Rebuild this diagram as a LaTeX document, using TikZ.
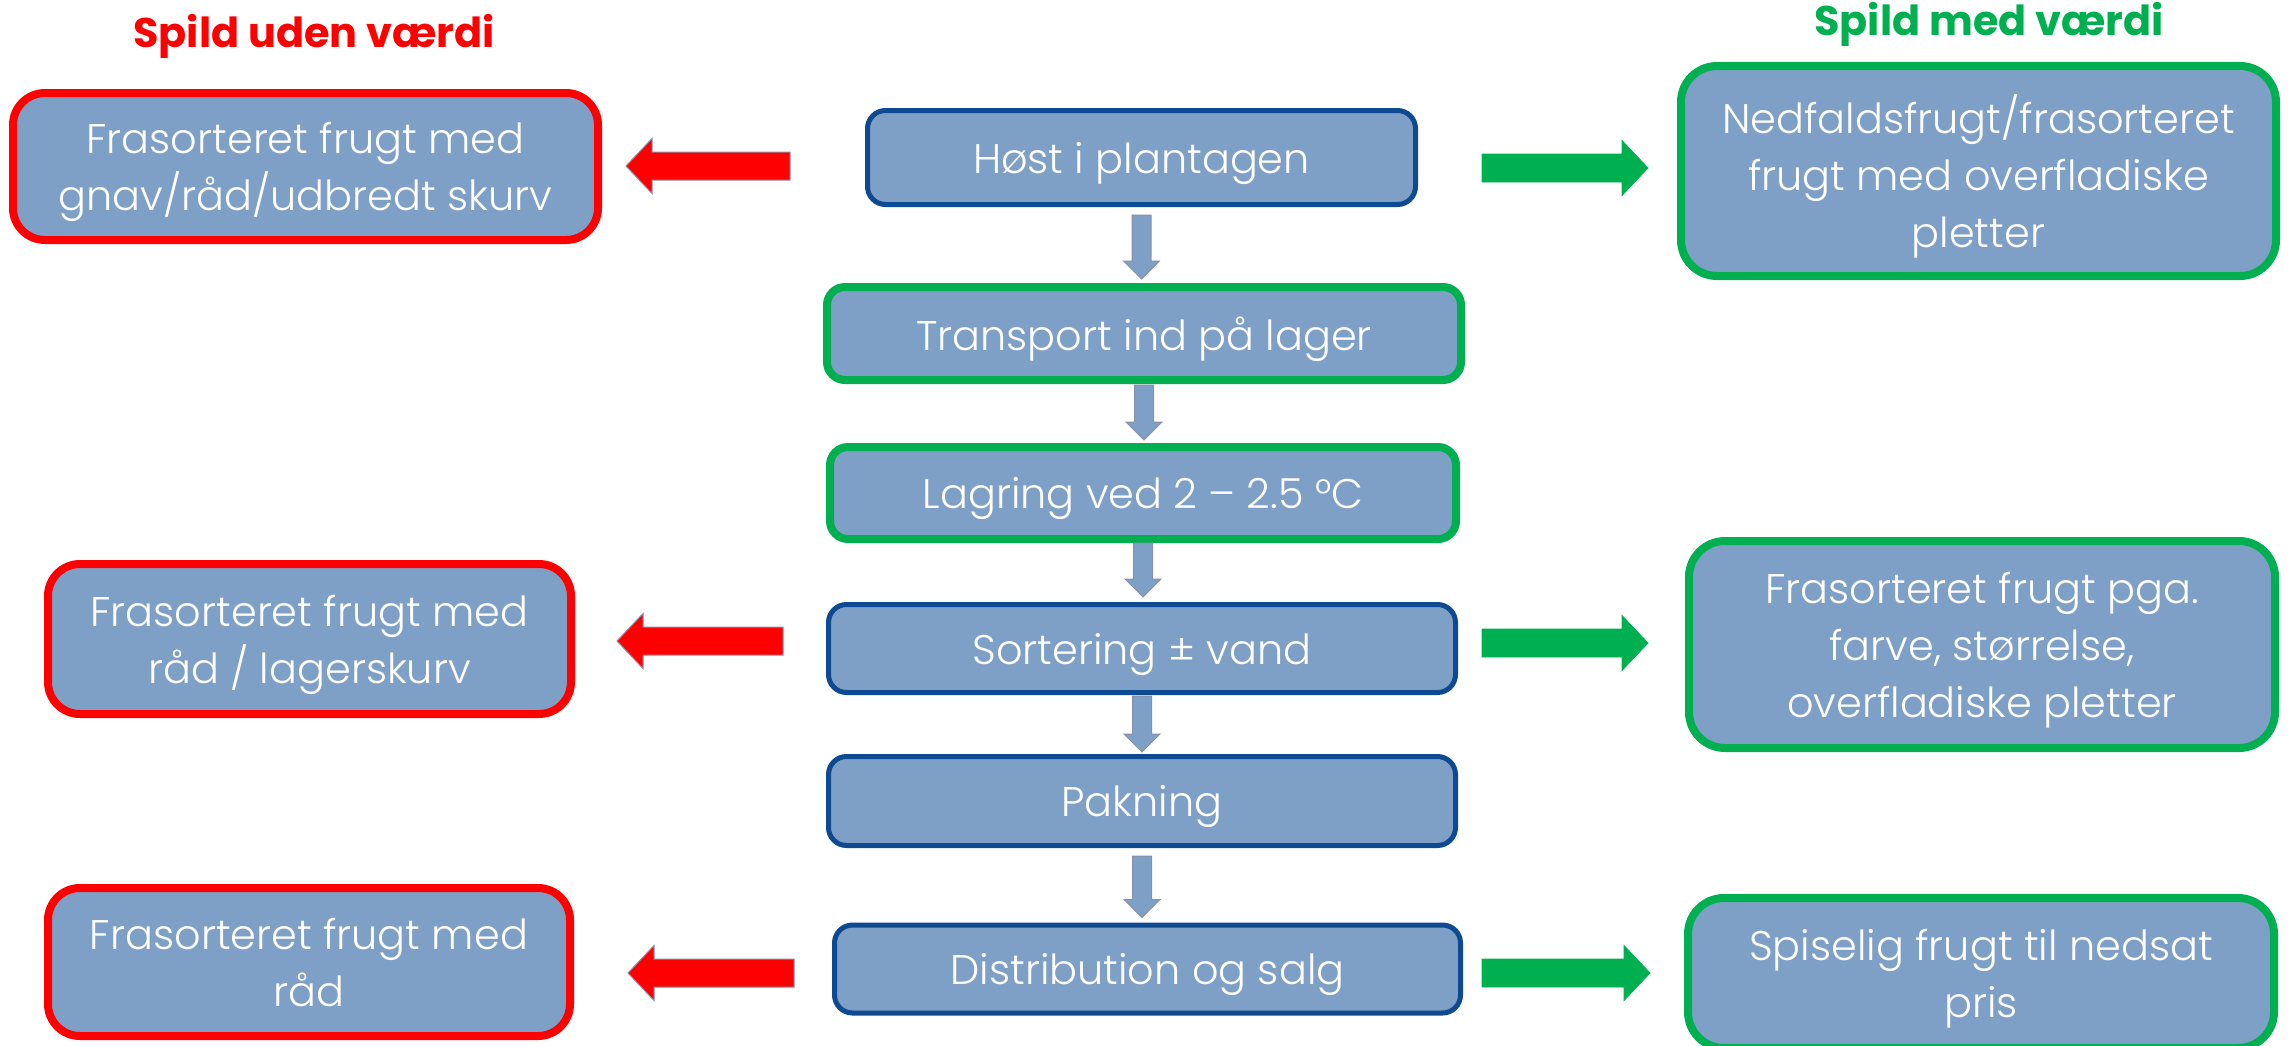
\documentclass[tikz,border=0pt]{standalone}
\usepackage{fontspec}
\setmainfont{Poppins}
\newfontfamily\lightfont{Poppins Light}
\usetikzlibrary{calc}
\definecolor{boxfill}{HTML}{7FA0C6}
\definecolor{darkblue}{HTML}{0E4A92}
\definecolor{wgreen}{HTML}{00B050}
\definecolor{wred}{HTML}{FF0000}
\definecolor{arrowedge}{HTML}{8A8FA8}
\newcommand\boxfont{\lightfont\fontsize{20.7pt}{28.5pt}\selectfont}
\newcommand\titlefont{\fontsize{20.7pt}{24pt}\selectfont\bfseries}
\newcommand\flowarrow[4]{%
  \coordinate (fa-tip) at (#1.south |- #2.north);
  \draw[darr] ($(#1.south)+(-9.5,#3)$) -- ($(fa-tip)+(-9.5,{-#4-18})$) -- ($(fa-tip)+(-18,{-#4-18})$) -- ($(fa-tip)+(0,-#4)$) -- ($(fa-tip)+(18,{-#4-18})$) -- ($(fa-tip)+(9.5,{-#4-18})$) -- ($(#1.south)+(9.5,#3)$) -- cycle;}
\tikzset{
  pics/blockarrow/.style={code={
    \path[pic actions] (0,-14) -- ({#1-26},-14) -- ({#1-26},-27.5) -- (#1,0) -- ({#1-26},27.5) -- ({#1-26},14) -- (0,14) -- cycle;}},
  box/.style={fill=boxfill, text=white, align=center, inner sep=0pt, font=\boxfont, text depth=0pt},
  bluebox/.style={box, draw=darkblue, line width=2.5pt, rounded corners=9pt},
  greenbox/.style={box, draw=wgreen, line width=4pt, rounded corners=9pt},
  redside/.style={box, draw=wred, line width=4pt, rounded corners=16pt},
  greenside/.style={box, draw=wgreen, line width=4pt, rounded corners=18pt},
  darr/.style={fill=boxfill, draw=arrowedge, line width=0.5pt},
  redarr/.style={fill=wred, draw=arrowedge, line width=0.5pt},
  greenarr/.style={fill=wgreen, draw=wgreen, line width=0.4pt},
  title/.style={font=\titlefont, inner sep=0pt, anchor=base}
}
\begin{document}
\begin{tikzpicture}[x=0.5pt,y=-0.5pt]
\useasboundingbox (0,0) rectangle (2293,1045);

% titles
\node[title, text=wred] (t1) at (314,47) {Spild uden værdi};
\node[title, text=wgreen] (t2) at (1989,35) {Spild med værdi};

% central flow
\node[bluebox, minimum width=274pt, minimum height=47pt] (c1) at (1141.5,157.5) {Høst i plantagen};
\node[greenbox, minimum width=317pt, minimum height=46.5pt] (c2) at (1144,333.5) {Transport ind på lager};
\node[greenbox, minimum width=313pt, minimum height=46pt] (c3) at (1143,493) {Lagring ved 2 – 2.5 °C};
\node[bluebox, minimum width=313.5pt, minimum height=44pt] (c4) at (1142,648.5) {Sortering ± vand};
\node[bluebox, minimum width=313.5pt, minimum height=44.5pt] (c5) at (1142,801) {Pakning};
\node[bluebox, minimum width=313pt, minimum height=44pt] (c6) at (1147.5,969) {Distribution og salg};

% left boxes
\node[redside, minimum width=292.5pt, minimum height=73.5pt] (l1) at (305.5,166.5) {Frasorteret frugt med\\gnav/råd/udbredt skurv};
\node[redside, minimum width=261.5pt, minimum height=75pt] (l2) at (309.5,639) {Frasorteret frugt med\\råd / lagerskurv};
\node[redside, minimum width=261pt, minimum height=74pt] (l3) at (309,962) {Frasorteret frugt med\\råd};

% right boxes
\node[greenside, minimum width=297.5pt, minimum height=105pt] (r1) at (1978.5,171) {Nedfaldsfrugt/frasorteret\\frugt med overfladiske\\pletter};
\node[greenside, minimum width=293pt, minimum height=103.5pt] (r2) at (1982,644.5) {Frasorteret frugt pga.\\farve, størrelse,\\overfladiske pletter};
\node[greenside, minimum width=293pt, minimum height=75pt] (r3) at (1981,973) {Spiselig frugt til nedsat\\pris};

% down arrows
\flowarrow{c1}{c2}{8}{4}
\flowarrow{c2}{c3}{1}{3}
\flowarrow{c3}{c4}{0}{5}
\flowarrow{c4}{c5}{1}{2}
\flowarrow{c5}{c6}{8}{5}

% side arrows
\pic[redarr, rotate=180] at (790,166) {blockarrow=164};
\pic[redarr, rotate=180] at (783,641) {blockarrow=166};
\pic[redarr, rotate=180] at (794,973) {blockarrow=166};
\pic[greenarr] at (1482,168) {blockarrow=166};
\pic[greenarr] at (1482,643) {blockarrow=166};
\pic[greenarr] at (1482,973) {blockarrow=168};
\end{tikzpicture}
\end{document}
